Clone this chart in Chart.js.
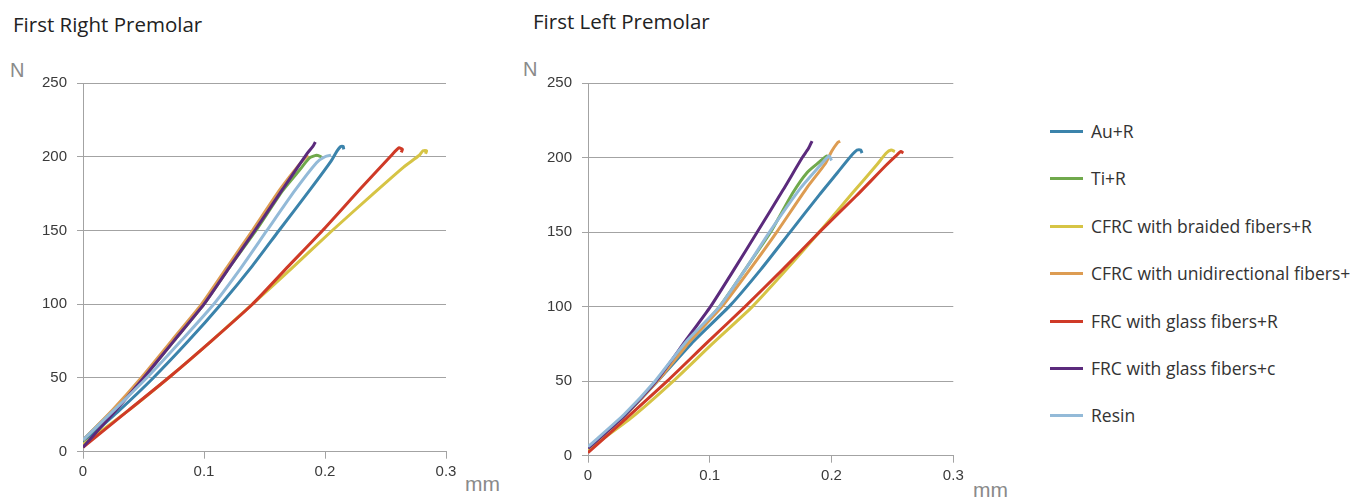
<!DOCTYPE html>
<html>
<head>
<meta charset="utf-8">
<script src="https://cdn.jsdelivr.net/npm/chart.js@4.4.0/dist/chart.umd.min.js"></script>
<style>
  body { margin: 0; background: #fff; width: 1364px; height: 497px; overflow: hidden; position: relative; font-family: "Open Sans", sans-serif; }
  canvas { position: absolute; top: 0; }
  .title { position: absolute; font-size: 20.5px; color: #222; white-space: nowrap; }
  .unit { position: absolute; color: #8a8a8a; font-family: "Liberation Sans", Arial, sans-serif; white-space: nowrap; }
  #legend { position: absolute; left: 1050px; top: 120px; }
  .item { position: absolute; left: 0; height: 22px; white-space: nowrap; font-size: 17.5px; color: #333; }
  .item span.swatch { position: absolute; left: 0; top: 10px; width: 33px; height: 3px; }
  .item span.txt { position: absolute; left: 41px; top: 0; line-height: 22px; }
</style>
</head>
<body>

<div class="title" style="left:13px; top:10px;">First Right Premolar</div>
<div class="title" style="left:533px; top:7px;">First Left Premolar</div>
<div class="unit" style="left:10px; top:59px; font-size:20px;">N</div>
<div class="unit" style="left:523px; top:58px; font-size:20px;">N</div>
<div class="unit" style="left:465px; top:472px; font-size:21px;">mm</div>
<div class="unit" style="left:973px; top:478px; font-size:21px;">mm</div>

<canvas id="rightPremolar" width="520" height="497" style="left:0px"></canvas>
<canvas id="leftPremolar" width="520" height="497" style="left:505px"></canvas>
<div id="legend"></div>

<script>
// legend names and colours (same order for both charts)
var seriesNames = ['Au+R', 'Ti+R', 'CFRC with braided fibers+R', 'CFRC with unidirectional fibers+', 'FRC with glass fibers+R', 'FRC with glass fibers+c', 'Resin'];
var seriesColors = ['#3b83ab', '#70a94c', '#d6c445', '#dd9c52', '#cf3a27', '#5b2a7c', '#93bad8'];

var xTicks = [0, 0.1, 0.2, 0.3];
var yTicks = [0, 50, 100, 150, 200, 250];

// First Right Premolar: [mm, N]
var rAuR = [[0,6],[0.03,28],[0.058,50],[0.087,75],[0.114,100],[0.14,126],[0.162,150],[0.188,178],[0.205,197],[0.21,204],[0.213,207],[0.215,207],[0.2155,205]];
var rTiR = [[0,8],[0.025,28],[0.05,50],[0.075,75],[0.1,100],[0.121,125],[0.143,150],[0.165,177],[0.18,192],[0.187,199],[0.193,201],[0.197,200]];
var rBraided = [[0,5],[0.036,27],[0.072,51],[0.106,75],[0.14,100],[0.172,124],[0.206,150],[0.24,175],[0.265,193],[0.278,201],[0.281,204],[0.284,204],[0.283,202]];
var rUni = [[0,8],[0.024,28],[0.048,50],[0.073,75],[0.098,100],[0.119,125],[0.14,150],[0.163,178],[0.18,196],[0.186,201]];
var rGlassR = [[0,3],[0.036,27],[0.072,51],[0.106,75],[0.14,100],[0.17,126],[0.198,150],[0.23,179],[0.255,201],[0.261,206],[0.264,205],[0.263,203]];
var rGlassC = [[0,3],[0.025,26],[0.05,50],[0.075,75],[0.1,100],[0.121,125],[0.142,150],[0.165,178],[0.185,202],[0.19,207],[0.192,210]];
var rResin = [[0,8],[0.028,30],[0.055,52],[0.082,76],[0.108,100],[0.13,124],[0.152,150],[0.175,177],[0.193,196],[0.2,200],[0.205,201]];

// First Left Premolar: [mm, N]
var lAuR = [[0,5],[0.03,27],[0.057,50],[0.087,77],[0.117,101],[0.142,125],[0.166,150],[0.19,175],[0.205,190],[0.216,201],[0.221,205],[0.224,205],[0.225,203]];
var lTiR = [[0,5],[0.03,27],[0.056,50],[0.082,76],[0.108,100],[0.13,126],[0.15,150],[0.168,176],[0.18,190],[0.19,197],[0.196,201],[0.198,200]];
var lBraided = [[0,4],[0.035,25],[0.07,50],[0.102,75],[0.135,100],[0.162,124],[0.19,150],[0.217,176],[0.237,195],[0.245,203],[0.249,205],[0.252,204]];
var lUni = [[0,5],[0.03,27],[0.057,50],[0.084,77],[0.11,100],[0.133,125],[0.155,150],[0.18,180],[0.195,196],[0.2,204],[0.205,210],[0.207,211]];
var lGlassR = [[0,2],[0.03,24],[0.065,50],[0.098,76],[0.129,100],[0.16,125],[0.19,150],[0.22,174],[0.245,195],[0.254,202],[0.257,204],[0.259,203]];
var lGlassC = [[0,5],[0.03,27],[0.056,50],[0.08,77],[0.1006,100],[0.12,125],[0.139,150],[0.16,178],[0.176,200],[0.181,206],[0.184,211]];
var lResin = [[0,6],[0.03,28],[0.055,50],[0.08,76],[0.108,100],[0.13,126],[0.149,150],[0.175,180],[0.192,196],[0.198,201],[0.2,198]];

function toPoints(arr) {
    return arr.map(function (p) { return { x: p[0], y: p[1] }; });
}

function makeChart(id, seriesList, plotRight, plotBottom) {
    var ctx = document.getElementById(id).getContext('2d');
    var datasets = seriesList.map(function (s, i) {
        return {
            label: seriesNames[i],
            data: toPoints(s),
            borderColor: seriesColors[i],
            backgroundColor: seriesColors[i],
            borderWidth: 3,
            pointRadius: 0,
            showLine: true,
            tension: 0.2,
            order: seriesList.length - i   // later series drawn on top
        };
    });
    return new Chart(ctx, {
        type: 'scatter',
        data: { datasets: datasets },
        options: {
            responsive: false,
            animation: false,
            layout: { padding: { top: 83, left: 0, right: 520 - plotRight, bottom: 0 } },
            plugins: { legend: { display: false }, tooltip: { enabled: false } },
            scales: {
                x: {
                    type: 'linear', min: 0, max: 0.3,
                    afterBuildTicks: function (s) { s.ticks = xTicks.map(function (v) { return { value: v }; }); },
                    afterFit: function (s) { s.height = 497 - plotBottom; },
                    grid: { drawOnChartArea: false, drawTicks: true, tickLength: 7, color: '#a3a3a3' },
                    border: { color: '#a3a3a3' },
                    ticks: { padding: 4, color: '#3a3a3a', font: { family: 'Liberation Sans', size: 15 }, maxRotation: 0 }
                },
                y: {
                    type: 'linear', min: 0, max: 250,
                    afterBuildTicks: function (s) { s.ticks = yTicks.map(function (v) { return { value: v }; }); },
                    afterFit: function (s) { s.width = 83; },
                    grid: { color: '#a3a3a3', tickLength: 6 },
                    border: { color: '#a3a3a3' },
                    ticks: { padding: 10, color: '#3a3a3a', font: { family: 'Liberation Sans', size: 15 } }
                }
            }
        }
    });
}

makeChart('rightPremolar', [rAuR, rTiR, rBraided, rUni, rGlassR, rGlassC, rResin], 446, 451.7);
makeChart('leftPremolar', [lAuR, lTiR, lBraided, lUni, lGlassR, lGlassC, lResin], 448.3, 455.7);

// legend
var legend = document.getElementById('legend');
seriesNames.forEach(function (name, i) {
    var item = document.createElement('div');
    item.className = 'item';
    item.style.top = (i * 47.4) + 'px';
    item.innerHTML = '<span class="swatch" style="background:' + seriesColors[i] + '"></span><span class="txt">' + name + '</span>';
    legend.appendChild(item);
});
</script>
</body>
</html>
